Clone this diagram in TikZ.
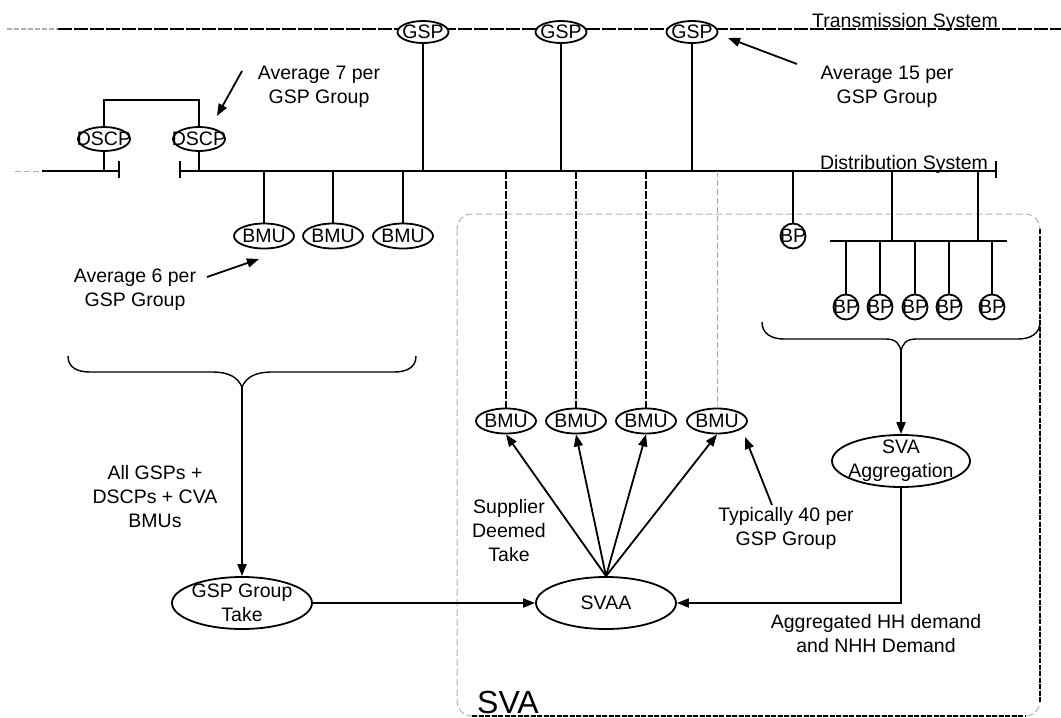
\documentclass[tikz,border=0pt]{standalone}
\usepackage{fontspec}
\setmainfont{Liberation Sans}
\usetikzlibrary{shapes.geometric,arrows.meta,backgrounds}
\begin{document}
\begin{tikzpicture}[x=1pt,y=-1pt,
  ln/.style={line width=1.8pt},
  arr/.style={line width=1.8pt,-{Triangle[length=12pt,width=9pt]}},
  txt/.style={font=\fontsize{19.5}{24}\selectfont,align=center,inner sep=0},
  every label/.style={font=\fontsize{19.5}{24}\selectfont,align=center,inner sep=0},
  ell/.style={ellipse,draw,line width=1.8pt,inner sep=0,fill=white},
  gspn/.style={ell,minimum width=51pt,minimum height=22pt,label={center:GSP}},
  dscpn/.style={ell,minimum width=52pt,minimum height=24pt,label={center:DSCP}},
  bmun/.style={ell,minimum width=60pt,minimum height=25pt,label={center:BMU}},
  bpn/.style={circle,draw,line width=1.8pt,inner sep=0,fill=white,minimum size=25pt,label={center:BP}},
  bign/.style={ell,minimum width=140pt,minimum height=52pt},
  heavydash/.style={line width=2.5pt,dash pattern=on 8pt off 2pt},
  lightdash/.style={line width=1pt,gray!70,dash pattern=on 6pt off 3pt}
]
\useasboundingbox (0,0) rectangle (1061,718);

% ---- SVA box
\draw[line width=1pt,gray!60,dash pattern=on 7pt off 3pt,rounded corners=15pt] (457,214) rectangle (1040,716);
\draw[line width=2.5pt,dash pattern=on 5pt off 1.5pt] (1040,229) -- (1040,702);
\draw[line width=2.5pt,dash pattern=on 5pt off 1.5pt] (472,716) -- (1026,716);
\node[anchor=base,inner sep=0,font=\fontsize{32}{36}\selectfont] (sva) at (508,713) {SVA};

% ---- coordinates
\coordinate (busy) at (0,171);
\coordinate (bus2y) at (0,241);

% ---- GSPs on transmission line
\node[gspn] (g1) at (423,32) {};
\node[gspn] (g2) at (561,32) {};
\node[gspn] (g3) at (692,32) {};
\begin{scope}[on background layer]
  \draw[line width=2pt,gray!60,dash pattern=on 5pt off 2pt] (7,29) -- (58,29);
  \draw[line width=2.5pt,dash pattern=on 14pt off 2pt] (58,29) -- (1061,29);
\end{scope}
\node[txt,anchor=base] (trans) at (905,27) {Transmission System};

% ---- distribution bus
\draw[line width=1pt,gray!60,dash pattern=on 6pt off 3pt] (15,171) -- (40,171);
\coordinate (lb0) at (42,171);
\coordinate (lb1) at (119,171);
\coordinate (rb0) at (180,171);
\coordinate (rb1) at (996,171);
\draw[ln] (lb0) -- (lb1);
\draw[ln] (119,161) -- (119,178);
\draw[ln] (rb0) -- (rb1);
\draw[ln] (180,161) -- (180,178);
\draw[ln] (996,161) -- (996,178);
\node[txt,anchor=base] (dist) at (904,169) {Distribution System};

\draw[ln] (g1.south) -- (g1.south |- busy);
\draw[ln] (g2.south) -- (g2.south |- busy);
\draw[ln] (g3.south) -- (g3.south |- busy);

% ---- DSCPs
\node[dscpn] (d1) at (104,139) {};
\node[dscpn] (d2) at (199,139) {};
\coordinate (dl) at (104,100);
\coordinate (dr) at (199,100);
\draw[ln] (d1.south) -- (d1.south |- busy);
\draw[ln] (d2.south) -- (d2.south |- busy);
\draw[ln] (d1.north) -- (dl) -- (dr) -- (d2.north);

\node[txt] (t7) at (319,87) {Average 7 per\\GSP Group};
\coordinate (a7t) at (242,71);
\coordinate (a7h) at (217,116);
\draw[arr] (a7t) -- (a7h);

\node[txt] (t15) at (887,87) {Average 15 per\\GSP Group};
\coordinate (a15t) at (797,64);
\coordinate (a15h) at (728,38);
\draw[arr] (a15t) -- (a15h);

% ---- left BMUs
\node[bmun] (b1) at (264,236) {};
\node[bmun] (b2) at (333,236) {};
\node[bmun] (b3) at (403,236) {};
\draw[ln] (b1.north |- busy) -- (b1.north);
\draw[ln] (b2.north |- busy) -- (b2.north);
\draw[ln] (b3.north |- busy) -- (b3.north);

\node[txt] (t6) at (135,290) {Average 6 per\\GSP Group};
\coordinate (a6t) at (207,277);
\coordinate (a6h) at (259,259);
\draw[arr] (a6t) -- (a6h);

% ---- left brace
\coordinate (lbt) at (242,387);
\draw[line width=1.4pt] (68,356) .. controls (68,368) and (78,372) .. (90,372) -- (212,372)
  .. controls (230,372) and (238,378) .. (lbt)
  .. controls (246,378) and (254,372) .. (272,372) -- (394,372)
  .. controls (406,372) and (416,368) .. (416,356);

\node[bign,label={center:GSP Group\\Take}] (gst) at (242,603) {};
\draw[arr] (lbt) -- (gst.north);
\node[txt] (tall) at (155,497) {All GSPs +\\DSCPs + CVA\\BMUs};

% ---- middle BMUs
\node[bmun] (m1) at (506,421) {};
\node[bmun] (m2) at (576,421) {};
\node[bmun] (m3) at (646,421) {};
\node[bmun] (m4) at (717,421) {};
\draw[heavydash] (m1.north |- busy) -- (m1.north);
\draw[heavydash] (m2.north |- busy) -- (m2.north);
\draw[heavydash] (m3.north |- busy) -- (m3.north);
\draw[lightdash] (m4.north |- busy) -- (m4.north);

\node[bign,label={center:SVAA}] (svaa) at (606,603) {};
\draw[arr] (svaa.north) -- (m1.south);
\draw[arr] (svaa.north) -- (m2.south);
\draw[arr] (svaa.north) -- (m3.south);
\draw[arr] (svaa.north) -- (m4.south);
\draw[arr] (gst.east) -- (svaa.west);

\node[txt] (tsup) at (509,531) {Supplier\\Deemed\\Take};
\node[txt] (t40) at (786,528) {Typically 40 per\\GSP Group};
\coordinate (a40t) at (772,505);
\coordinate (a40h) at (745,437);
\draw[arr] (a40t) -- (a40h);

% ---- right side BPs
\node[bpn] (bp0) at (793,236) {};
\draw[ln] (bp0.north |- busy) -- (bp0.north);
\coordinate (c20) at (830,241);
\coordinate (c21) at (1007,241);
\draw[ln] (c20) -- (c21);
\coordinate (v1) at (892,241);
\coordinate (v2) at (978,241);
\draw[ln] (v1 |- busy) -- (v1);
\draw[ln] (v2 |- busy) -- (v2);
\node[bpn] (p1) at (846,307) {};
\node[bpn] (p2) at (880,307) {};
\node[bpn] (p3) at (915,307) {};
\node[bpn] (p4) at (949,307) {};
\node[bpn] (p5) at (992,307) {};
\foreach \p in {p1,p2,p3,p4,p5}{\draw[ln] (\p.north |- bus2y) -- (\p.north);}

% ---- right brace
\coordinate (rbt) at (901,352);
\draw[line width=1.4pt] (762,322) .. controls (762,334) and (772,339) .. (784,339) -- (886,339)
  .. controls (896,339) and (900,344) .. (rbt)
  .. controls (902,344) and (906,339) .. (916,339) -- (1018,339)
  .. controls (1030,339) and (1040,334) .. (1040,322);

\node[bign,minimum width=138pt,label={center:SVA\\Aggregation}] (svag) at (901,461) {};
\draw[arr] (rbt) -- (svag.north);
\draw[arr] (svag.south) |- (svaa.east);
\node[txt] (thh) at (876,634) {Aggregated HH demand\\and NHH Demand};
\end{tikzpicture}
\end{document}
